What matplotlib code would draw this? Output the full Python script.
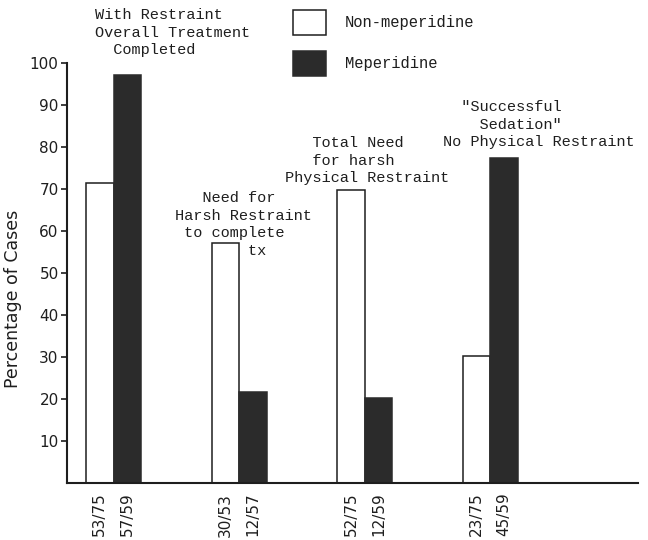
#!/usr/bin/env python3
"""Restraint / sedation outcomes, non-meperidine vs meperidine."""

import matplotlib
matplotlib.use("Agg")
import matplotlib.pyplot as plt
import numpy as np


W, H = 648, 540

outcome_notes = [
    "With Restraint\nOverall Treatment\n  Completed",
    "   Need for\nHarsh Restraint\n to complete\n        tx",
    "   Total Need\n   for harsh\nPhysical Restraint",
    "  \"Successful\n    Sedation\"\nNo Physical Restraint",
]
non_meperidine = [71.4, 57.1, 69.8, 30.2]
meperidine = [97.1, 21.7, 20.2, 77.4]
non_counts = ["53/75", "30/53", "52/75", "23/75"]
mep_counts = ["57/59", "12/57", "12/59", "45/59"]
y_ticks = [10, 20, 30, 40, 50, 60, 70, 80, 90, 100]

# top-left pixel of each note in the 648x540 frame
note_px = [(95, 8), (175, 191), (285, 136), (443, 100)]

MONO = "Liberation Mono"
INK = "#1e1e1e"
DARK = "#2b2b2b"


def main() -> None:
    fig = plt.figure(figsize=(W / 100, H / 100), dpi=100)
    ax = fig.add_axes([67 / W, 1 - 483 / H, (638 - 67) / W, (483 - 63) / H])

    x = np.arange(len(non_meperidine), dtype=float)
    width = 0.22
    b1 = ax.bar(x - width / 2, non_meperidine, width, color="white",
                edgecolor=INK, linewidth=1.1, label="Non-meperidine")
    b2 = ax.bar(x + width / 2, meperidine, width, color=DARK,
                edgecolor=DARK, linewidth=1.1, label="Meperidine")

    ax.set_xlim(-(113.6 - 67) / 125.6, (638 - 113.6) / 125.6)
    ax.set_ylim(0, 100)
    ax.set_yticks(y_ticks)
    ax.tick_params(axis="y", direction="out", length=4, width=1.2,
                   pad=2, labelsize=11, colors=INK)

    tick_pos = np.concatenate([x - width / 2, x + width / 2])
    tick_lab = non_counts + mep_counts
    ax.set_xticks(tick_pos)
    ax.set_xticklabels(tick_lab, rotation=90, fontsize=11, color=INK)
    ax.tick_params(axis="x", length=0, pad=7)

    for side in ("top", "right"):
        ax.spines[side].set_visible(False)
    for side in ("left", "bottom"):
        ax.spines[side].set_linewidth(1.5)
        ax.spines[side].set_color(INK)

    ax.set_ylabel("Percentage of Cases", fontsize=12.5, color=INK)
    ax.yaxis.set_label_coords(-(67 - 22) / (638 - 67), (483 - 299) / 420)

    for note, (px, py) in zip(outcome_notes, note_px):
        fig.text(px / W, 1 - py / H, note, family=MONO, fontsize=11,
                 color=INK, ha="left", va="top", linespacing=1.34)

    ax.legend(handles=[b1, b2], loc="upper left",
              bbox_to_anchor=(293 / W, 1 - 10 / H), bbox_transform=fig.transFigure,
              frameon=False, borderpad=0, borderaxespad=0,
              handlelength=2.1, handleheight=2.1, labelspacing=1.0,
              handletextpad=1.25, prop={"family": MONO, "size": 11.2},
              labelcolor=INK)

    fig.savefig("out.png", dpi=100, facecolor="white")
    plt.close(fig)


if __name__ == "__main__":
    main()
